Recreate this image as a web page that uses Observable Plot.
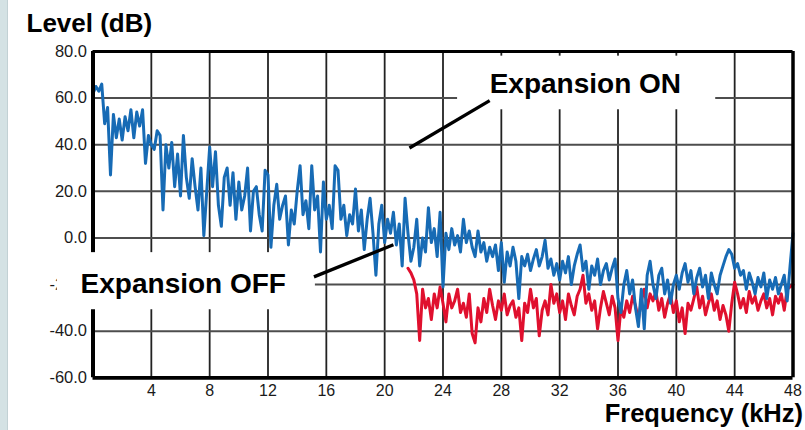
<!DOCTYPE html>
<html>
<head>
<meta charset="utf-8">
<script src="https://cdn.jsdelivr.net/npm/d3@7"></script>
<script src="https://cdn.jsdelivr.net/npm/@observablehq/plot@0.6"></script>
<style>
  html, body { margin: 0; padding: 0; background: #ffffff; }
  #wrap { position: relative; width: 805px; height: 430px; overflow: hidden; }
  #strip { position: absolute; left: 0; top: 0; width: 7px; height: 430px; background: #d4e2e4; border-right: 1.5px solid #c2d1d4; }
  #chart { position: absolute; left: 0; top: 0; }
  svg { font-family: "Liberation Sans", Arial, Helvetica, sans-serif; }
</style>
</head>
<body>
<div id="wrap"><div id="strip"></div><div id="chart"></div></div>
<script>
// ---- data ----
const freqStep = 0.2;          // kHz between samples
const blueStart = 0;           // Expansion ON starts at 0 kHz
const redStart = 21.6;         // Expansion OFF trace starts at ~21.6 kHz

// Expansion ON (blue), dB, 0.0 .. 48.0 kHz
const blueLevel = [
  62, 65, 63, 66, 49,     // 0
  56, 27, 53, 43, 51,     // 1
  42, 52, 46, 55, 43,     // 2
  54, 48, 55, 32, 44,     // 3
  40, 38, 46, 44, 12,     // 4
  40, 30, 41, 22, 36,     // 5
  18, 44, 26, 17, 34,     // 6
  22, 12, 30, 1, 20,      // 7
  39, 22, 37, 14, 5,      // 8
  26, 30, 14, 28, 8,      // 9
  24, 12, 18, 30, 3,      // 10
  20, 22, 10, 3, 29,      // 11
  27, -4, 14, 23, 8,      // 12
  14, 18, -3, 12, 6,      // 13
  20, 31, 10, 16, 4,      // 14
  31, 12, 18, -6, 24,     // 15
  8, 14, 4, 31, 29,       // 16
  8, 14, 1, 10, 6,        // 17
  21, 3, 12, -5, 8,       // 18
  17, 2, -16, 6, 14,      // 19
  -2, 8, 2, 11, -3,       // 20
  6, -12, 17, 2, -10,     // 21
  -4, 8, -12, 0, -6,      // 22
  13, -2, 4, -8, 11,      // 23
  -21, 2, -5, 4, -3,      // 24
  1, -6, 8, -2, 3,        // 25
  -4, -8, 3, -6, -2,      // 26
  -10, -4, -8, -3, -14,   // 27
  -2, -19, -6, -12, -4,   // 28
  -10, -26, -8, -12, -7,  // 29
  -14, -9, -5, -12, -8,   // 30
  -1, -13, -9, -16, -11,  // 31
  -18, -10, -15, -8, -20, // 32
  -12, -7, -3, -14, -10,  // 33
  -22, -12, -16, -9, -20, // 34
  -14, -11, -18, -13, -9, // 35
  -26, -32, -20, -14, -24,// 36
  -18, -30, -38, -22, -39,// 37
  -16, -10, -20, -26, -16,// 38
  -13, -24, -18, -28, -20,// 39
  -16, -22, -15, -11, -19,// 40
  -14, -24, -17, -13, -21,// 41
  -16, -26, -15, -20, -24,// 42
  -16, -12, -8, -5, -7,   // 43
  -13, -11, -16, -14, -22,// 44
  -15, -19, -24, -17, -21,// 45
  -15, -26, -18, -22, -17,// 46
  -24, -20, -16, -27, -12,// 47
  2                       // 48
];

// Expansion OFF (red), dB, 21.6 .. 48.0 kHz
const redLevel = [
  -13, -15,                // 21.6, 21.8
  -18, -24, -44, -22, -30, // 22
  -26, -35, -24, -30, -21, // 23
  -28, -36, -24, -30, -27, // 24
  -22, -32, -28, -34, -24, // 25
  -41, -45, -30, -36, -26, // 26
  -32, -22, -29, -35, -27, // 27
  -31, -24, -33, -29, -27, // 28
  -34, -30, -44, -28, -32, // 29
  -22, -30, -26, -42, -31, // 30
  -27, -33, -20, -28, -24, // 31
  -32, -27, -35, -24, -29, // 32
  -33, -25, -22, -16, -28, // 33
  -24, -31, -27, -39, -30, // 34
  -23, -28, -33, -25, -30, // 35
  -44, -30, -34, -27, -32, // 36
  -25, -29, -35, -27, -22, // 37
  -30, -24, -27, -23, -31, // 38
  -26, -34, -28, -24, -32, // 39
  -27, -36, -30, -41, -28, // 40
  -31, -26, -21, -30, -25, // 41
  -33, -28, -24, -31, -27, // 42
  -35, -29, -33, -40, -28, // 43
  -19, -24, -30, -26, -32, // 44
  -23, -28, -25, -31, -27, // 45
  -24, -30, -26, -33, -25, // 46
  -28, -24, -31, -22, -21, // 47
  -20                      // 48
];

const xTicks = [4, 8, 12, 16, 20, 24, 28, 32, 36, 40, 44, 48];
const yTicks = [-60, -40, -20, 0, 20, 40, 60, 80];
const xGridLines = [4, 8, 12, 16, 20, 24, 28, 32, 36, 40, 44];
const yGridLines = [-40, -20, 0, 20, 40, 60];

const yTitle = "Level (dB)";
const xTitle = "Frequency (kHz)";

// annotation labels (data units)
const noteLabels = ["Expansion ON", "Expansion OFF"];
const noteX = [27.2, -0.85];
const noteY = [62.3, -23.6];
const noteBoxX1 = [25.0, -2.45];
const noteBoxX2 = [42.7, 15.25];
const noteBoxY1 = [55.0, -30.8];
const noteBoxY2 = [78.0, -6.3];
const leaderX1 = [21.7, 15.15];
const leaderY1 = [38.6, -16.7];
const leaderX2 = [27.2, 20.6];
const leaderY2 = [58.9, -2.9];

// ---- build tables ----
const blue = blueLevel.map((v, i) => ({f: +(blueStart + i * freqStep).toFixed(2), v}));
const red = redLevel.map((v, i) => ({f: +(redStart + i * freqStep).toFixed(2), v}));
const notes = noteLabels.map((t, i) => ({
  t, x: noteX[i], y: noteY[i],
  bx1: noteBoxX1[i], bx2: noteBoxX2[i], by1: noteBoxY1[i], by2: noteBoxY2[i],
  lx1: leaderX1[i], ly1: leaderY1[i], lx2: leaderX2[i], ly2: leaderY2[i]
}));

const chart = Plot.plot({
  width: 805,
  height: 430,
  marginLeft: 92.5,
  marginRight: 12.5,
  marginTop: 51,
  marginBottom: 52.7,
  style: {background: "transparent", fontFamily: "'Liberation Sans', Arial, sans-serif"},
  x: {domain: [0, 48], axis: null},
  y: {domain: [-60, 80], axis: null},
  marks: [
    Plot.ruleX(xGridLines, {stroke: "#222", strokeWidth: 1.8}),
    Plot.ruleY(yGridLines, {stroke: "#4d4d4d", strokeWidth: 2}),
    Plot.line(red, {x: "f", y: "v", stroke: "#e0102e", strokeWidth: 3}),
    Plot.line(blue, {x: "f", y: "v", stroke: "#176bb5", strokeWidth: 3}),
    Plot.ruleX([0], {stroke: "#000", strokeWidth: 4}),
    Plot.ruleX([48], {stroke: "#000", strokeWidth: 3.5}),
    Plot.ruleY([80], {stroke: "#000", strokeWidth: 2.8}),
    Plot.ruleY([-60], {stroke: "#000", strokeWidth: 3.7}),
    Plot.axisY({ticks: yTicks, tickFormat: d => d.toFixed(1), tickSize: 0, tickPadding: 6,
      fontSize: 16.5, fill: "#1a1a1a", label: null}),
    Plot.axisX({ticks: xTicks, tickFormat: d => String(d), tickSize: 0, tickPadding: 7,
      fontSize: 16, fill: "#1a1a1a", label: null}),
    Plot.rect(notes, {x1: "bx1", x2: "bx2", y1: "by1", y2: "by2", fill: "#fff"}),
    Plot.link(notes, {x1: "lx1", y1: "ly1", x2: "lx2", y2: "ly2", stroke: "#000", strokeWidth: 3.3, strokeLinecap: "butt"}),
    Plot.text(notes, {x: "x", y: "y", text: "t", textAnchor: "start", lineAnchor: "bottom",
      fontSize: 28, fontWeight: "bold", fill: "#000"}),
    Plot.text([yTitle], {frameAnchor: "top-left", dx: -66.5, dy: -20, textAnchor: "start", lineAnchor: "bottom",
      fontSize: 26, fontWeight: "bold", fill: "#000"}),
    Plot.text([xTitle], {frameAnchor: "bottom-right", dx: 10, dy: 44.4, textAnchor: "end", lineAnchor: "bottom",
      fontSize: 25.5, fontWeight: "bold", fill: "#000"})
  ]
});
document.getElementById("chart").appendChild(chart);
</script>
</body>
</html>
